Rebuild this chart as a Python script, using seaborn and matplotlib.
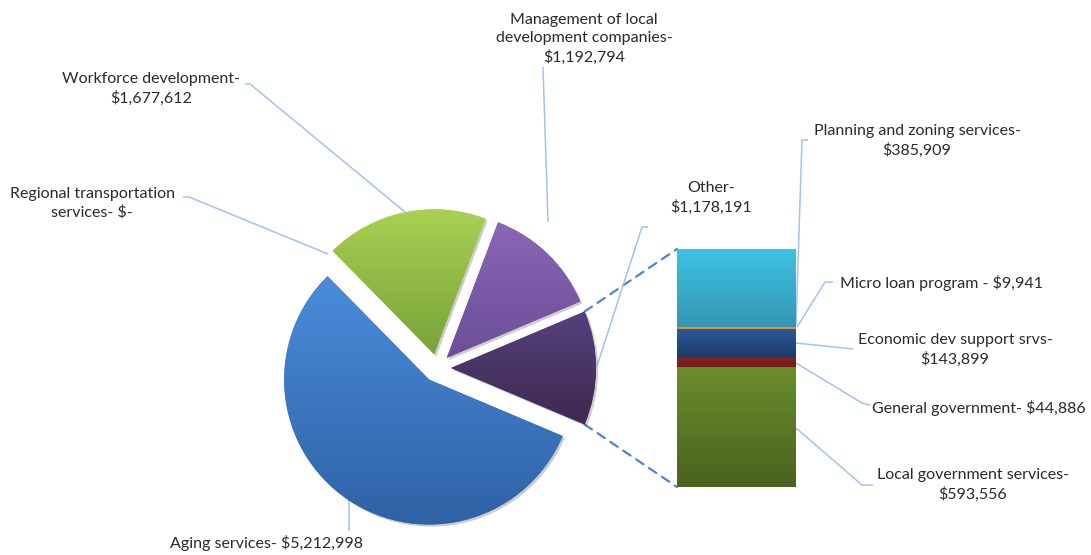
import numpy as np
import matplotlib
matplotlib.use("Agg")
import matplotlib.pyplot as plt
import seaborn as sns
from matplotlib.colors import LinearSegmentedColormap
from matplotlib.patches import ConnectionPatch
import matplotlib.patheffects as pe

# ---------------- data ----------------
pie_categories = ["Other", "Management of local development companies",
                  "Workforce development", "Regional transportation services",
                  "Aging services"]
pie_values = [1178191, 1192794, 1677612, 0, 5212998]
pie_label_texts = ["Other-\n$1,178,191",
                   "Management of local\ndevelopment companies-\n$1,192,794",
                   "Workforce development-\n$1,677,612",
                   "Regional transportation\nservices- $-",
                   "Aging services- $5,212,998"]

bar_categories = ["Local government services", "General government",
                  "Economic dev support srvs", "Micro loan program",
                  "Planning and zoning services"]
bar_values = [593556, 44886, 143899, 9941, 385909]
bar_label_texts = ["Local government services-\n$593,556",
                   "General government- $44,886",
                   "Economic dev support srvs-\n$143,899",
                   "Micro loan program - $9,941",
                   "Planning and zoning services-\n$385,909"]

# ---------------- styles ----------------
pie_grad = [("#56417c", "#3d2950"),   # Other
            ("#8b66b6", "#6b4e98"),   # Management
            ("#a9d152", "#78a13a"),   # Workforce
            ("#a9d152", "#78a13a"),   # Regional (zero)
            ("#4a8cda", "#2f62a6")]   # Aging
bar_grad = [("#6a8d2c", "#4b6220"),
            ("#8e2222", "#701a1a"),
            ("#2b5a9a", "#1c3a66"),
            ("#f0953a", "#e08a30"),
            ("#3dc3e5", "#3596b2")]
leader_color = "#9ec4f2"
text_color = "#2a2a2a"

sns.set_theme(style="white")
plt.rcParams["font.family"] = ["Lato", "DejaVu Sans"]

W, H = 1091, 555
fig = plt.figure(figsize=(W / 100, H / 100), dpi=100)
fig.patch.set_facecolor("white")

# overlay axes in pixel coordinates (for labels and leader lines)
ax = fig.add_axes([0, 0, 1, 1])
ax.set_xlim(0, W)
ax.set_ylim(H, 0)
ax.axis("off")

# ---------------- pie ----------------
R_PX = 145.0
cx, cy = 437.0, 368.0
L = 1.3
side = 2 * L * R_PX
axp = fig.add_axes([(cx - side / 2) / W, (H - cy - side / 2) / H, side / W, side / H])
total = sum(pie_values)
start = -180.0 * pie_values[0] / total
explode = [14.0 / R_PX] * len(pie_values)
wedges, _ = axp.pie(pie_values, startangle=start, counterclock=True,
                    radius=1.0, explode=explode,
                    colors=[g[0] for g in pie_grad],
                    wedgeprops=dict(linewidth=0))


def grad_fill(axx, patch, top, bottom, ext):
    x0, y0, x1, y1 = ext
    cmap = LinearSegmentedColormap.from_list("g", [top, bottom])
    img = axx.imshow(np.linspace(0, 1, 256).reshape(-1, 1), cmap=cmap,
                     extent=[x0, x1, y0, y1], origin="upper",
                     aspect="auto", zorder=patch.get_zorder() + 0.1,
                     interpolation="bilinear")
    img.set_clip_path(patch)


for w, (top, bot), v in zip(wedges, pie_grad, pie_values):
    if v <= 0:
        w.set_visible(False)
        continue
    w.set_path_effects([pe.SimplePatchShadow(offset=(1.5, -1.5), shadow_rgbFace="k", alpha=0.22),
                        pe.Normal()])
    e = w.get_path().get_extents()
    grad_fill(axp, w, top, bot, (e.x0, e.y0, e.x1, e.y1))

axp.set_xlim(-L, L)
axp.set_ylim(-L, L)
axp.set_aspect("auto")
axp.axis("off")

# ---------------- bar of pie ----------------
bx0, bx1, by0, by1 = 677, 796, 249, 487
axb = fig.add_axes([bx0 / W, (H - by1) / H, (bx1 - bx0) / W, (by1 - by0) / H])
bottoms = np.concatenate([[0], np.cumsum(bar_values)[:-1]])
rects = axb.bar([0] * len(bar_values), bar_values, bottom=bottoms, width=1.0,
                color=[g[0] for g in bar_grad], linewidth=0)
for r, (top, bot) in zip(rects, bar_grad):
    r.set_path_effects([pe.SimplePatchShadow(offset=(1.2, -1.2), shadow_rgbFace="k", alpha=0.18),
                        pe.Normal()])
    bb = r.get_bbox()
    grad_fill(axb, r, top, bot, (bb.x0, bb.y0, bb.x1, bb.y1))
axb.set_xlim(-0.5, 0.5)
axb.set_ylim(0, sum(bar_values))
axb.set_aspect("auto")
axb.axis("off")

# dashed connectors from the "Other" wedge to the bar
wo = wedges[0]
ocx, ocy = wo.center
for ang, yb in ((wo.theta2, 1.0), (wo.theta1, 0.0)):
    xa = ocx + wo.r * np.cos(np.radians(ang))
    ya = ocy + wo.r * np.sin(np.radians(ang))
    con = ConnectionPatch(xyA=(xa, ya), coordsA=axp.transData,
                          xyB=(0.0, yb), coordsB=axb.transAxes,
                          color="#4a86d0", lw=1.6, linestyle=(0, (4, 3)), zorder=0)
    fig.add_artist(con)

# ---------------- labels & leader lines ----------------
fs = 11.5
pie_label_pos = [(711, 198), (584, 39), (151, 89), (92, 203), (266, 543)]
pie_leaders = [[(648, 227), (642, 227), (597, 366)],
               [(543, 67), (548, 222)],
               [(245, 84), (250, 84), (405, 212)],
               [(183, 197), (189, 197), (328, 254)],
               [(349, 498), (349, 531)]]
bar_label_pos = [(973, 485), (979, 408), (955, 350), (941, 283), (917, 141)]
bar_leaders = [[(873, 485), (862, 485), (796, 428)],
               [(870, 405), (862, 403), (796, 363)],
               [(853, 349), (796, 343)],
               [(833, 282), (825, 282), (797, 327)],
               [(808, 140), (802, 140), (796, 325)]]

for txt, pos in zip(pie_label_texts + bar_label_texts, pie_label_pos + bar_label_pos):
    ax.text(pos[0], pos[1], txt, ha="center", va="center", fontsize=fs,
            color=text_color, linespacing=1.35)
for pts in pie_leaders + bar_leaders:
    xs, ys = zip(*pts)
    ax.plot(xs, ys, color=leader_color, lw=1.1, solid_capstyle="butt")

fig.savefig("out.png", dpi=100, facecolor="white")
